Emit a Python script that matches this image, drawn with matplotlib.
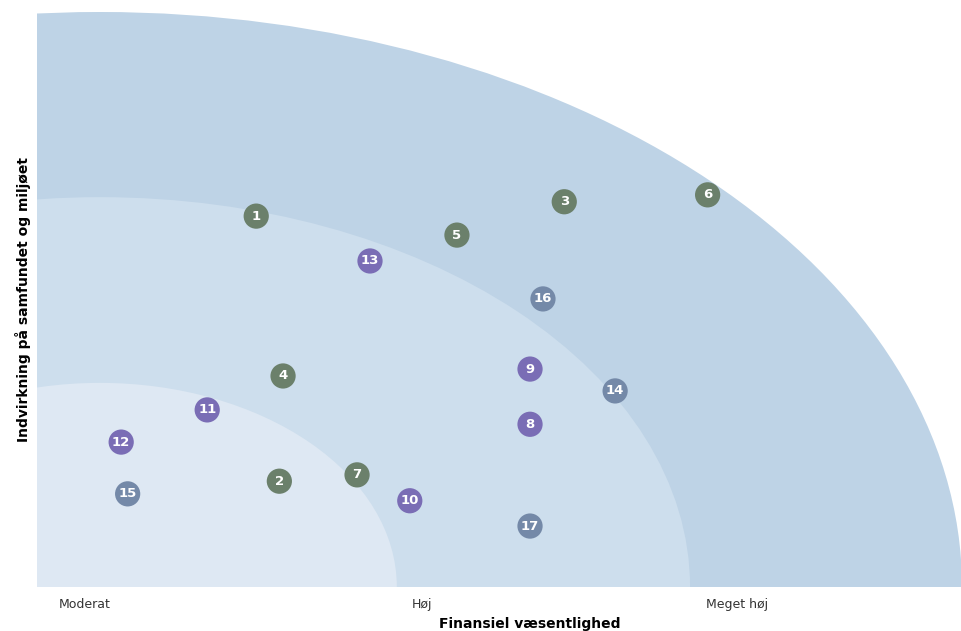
import matplotlib
matplotlib.use("Agg")
import matplotlib.pyplot as plt
from matplotlib.patches import Ellipse

# emner: x = finansiel væsentlighed, y = indvirkning (0-100 skala)
ids = [1, 2, 3, 4, 5, 6, 7, 8, 9, 10, 11, 12, 13, 14, 15, 16, 17]
x_vals = [23.7, 26.2, 57.0, 26.6, 45.4, 72.5, 34.6, 53.3, 53.3, 40.3,
          18.4, 9.1, 36.0, 62.5, 9.8, 54.7, 53.3]
y_vals = [64.5, 18.4, 67.0, 36.7, 61.2, 68.2, 19.5, 28.3, 37.9, 15.0,
          30.8, 25.2, 56.7, 34.1, 16.2, 50.1, 10.6]
groups = ["g", "g", "g", "g", "g", "g", "g", "p", "p", "p",
          "p", "p", "p", "b", "b", "b", "b"]

group_colors = {"g": "#6b806b", "p": "#7a6db5", "b": "#7489a8"}

# zoner (kvarte ellipser), yderst først
zone_center = (6.8, 0)
zone_w = [93.2, 63.8, 32.1]
zone_h = [100.0, 67.8, 35.5]
zone_colors = ["#bed3e6", "#cddeed", "#dee8f3"]

tick_pos = [5.2, 41.6, 75.7]
tick_labels = ["Moderat", "Høj", "Meget høj"]

fig = plt.figure(figsize=(9.62, 6.31), dpi=100)
ax = fig.add_axes([37 / 962, 44 / 631, 925 / 962, 575 / 631])

for w, h, c in zip(zone_w, zone_h, zone_colors):
    ax.add_patch(Ellipse(zone_center, 2 * w, 2 * h, facecolor=c,
                         edgecolor="none", zorder=1))

for i, x, y, g in zip(ids, x_vals, y_vals, groups):
    ax.scatter(x, y, s=330, color=group_colors[g], edgecolors="none", zorder=3)
    ax.text(x, y, str(i), color="white", fontsize=9.5, fontweight="bold",
            ha="center", va="center", zorder=4)

ax.set_xlim(0, 100)
ax.set_ylim(0, 100)
for s in ax.spines.values():
    s.set_visible(False)
ax.set_yticks([])
ax.set_xticks(tick_pos)
ax.set_xticklabels(tick_labels, fontsize=9, color="#333333")
ax.tick_params(axis="x", length=0, pad=8)

ax.set_xlabel("Finansiel væsentlighed", fontsize=10, fontweight="bold")
ax.xaxis.set_label_coords((530 - 37) / 925, -0.052)
ax.set_ylabel("Indvirkning på samfundet og miljøet", fontsize=10,
              fontweight="bold")
ax.yaxis.set_label_coords(-0.006, 0.5)

fig.savefig("out.png", dpi=100)
